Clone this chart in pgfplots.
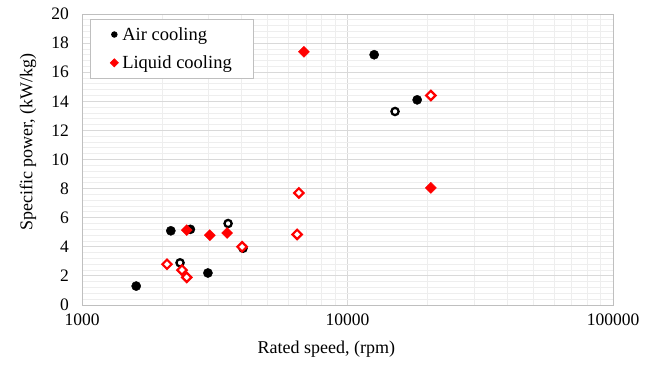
\documentclass[border=0pt]{standalone}
\usepackage{fontspec}
\setmainfont{Liberation Serif}
\usepackage{pgfplots}
\pgfplotsset{compat=1.18}
\definecolor{majgrid}{RGB}{217,217,217}
\definecolor{mingrid}{RGB}{238,238,238}
\definecolor{frame}{RGB}{191,191,191}
\definecolor{lred}{RGB}{255,0,0}
\begin{document}
\begin{tikzpicture}
\useasboundingbox (0,0) rectangle (663pt,366pt);
\begin{axis}[
  at={(82pt,61pt)}, anchor=south west,
  scale only axis, width=531pt, height=291pt,
  xmode=log, xmin=1000, xmax=100000,
  ymin=0, ymax=20,
  xtick={1000,10000,100000},
  xticklabels={1000,10000,100000},
  minor xtick={2000,3000,4000,5000,6000,7000,8000,9000,20000,30000,40000,50000,60000,70000,80000,90000},
  ytick={0,2,...,20},
  minor ytick={0.4,0.8,...,19.7},
  major tick length=0pt, minor tick length=0pt,
  grid=both,
  major grid style={majgrid, line width=0.8pt},
  minor grid style={mingrid, line width=0.8pt},
  axis line style={frame, line width=0.8pt},
  /pgf/number format/assume math mode=true,
  tick label style={font=\fontsize{17.5}{20}\selectfont, inner sep=1pt},
  xticklabel style={yshift=-8pt},
  yticklabel style={xshift=-12pt},
  xlabel={Rated speed, (rpm)},
  ylabel={Specific power, (kW/kg)},
  every axis x label/.style={at={(axis description cs:0.46,-0.151)}, anchor=center, font=\fontsize{18}{21}\selectfont},
  every axis y label/.style={at={(axis description cs:-0.1017,0.56)}, anchor=center, rotate=90, font=\fontsize{18}{21}\selectfont},
  legend style={at={(axis description cs:0.015,0.983)}, anchor=north west,
    draw=frame, line width=0.8pt, font=\fontsize{18.5}{21}\selectfont,
    inner xsep=20pt, inner ysep=6pt, row sep=10pt, fill=white,
    /tikz/every odd column/.append style={column sep=2pt}},
  legend cell align=left,
  legend image code/.code={\path[#1, mark size=2.8pt] plot coordinates {(0pt,0pt)};},
]
% Air cooling, filled
\addplot[only marks, mark=*, mark size=4.6pt, black] coordinates {
(1600,1.3) (2160,5.1) (2560,5.2) (2980,2.2) (12600,17.2) (18300,14.1)};
\addlegendentry{Air cooling}
% Air cooling, hollow
\addplot[only marks, mark=*, mark size=3.6pt, mark options={draw=black, fill=white, line width=2.3pt}, forget plot] coordinates {
(2340,2.9) (3550,5.6) (4040,3.9) (15100,13.3)};
% Liquid cooling, filled
\addplot[only marks, mark=square*, mark size=3.9pt, mark options={rotate=45, draw=lred, fill=lred}] coordinates {
(2480,5.15) (3030,4.8) (3520,4.95) (6850,17.4) (20600,8.05)};
\addlegendentry{Liquid cooling}
% Liquid cooling, hollow
\addplot[only marks, mark=square*, mark size=3.3pt, mark options={rotate=45, draw=lred, fill=white, line width=2.2pt}, forget plot] coordinates {
(2090,2.8) (2380,2.4) (2480,1.9) (4010,4.0) (6460,4.85) (6560,7.7) (20600,14.4)};
\end{axis}
\end{tikzpicture}
\end{document}
